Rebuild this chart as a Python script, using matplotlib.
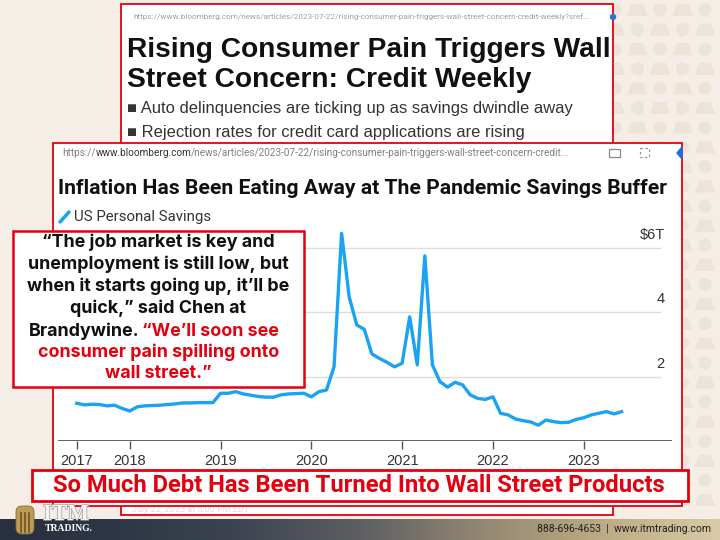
import numpy as np
import matplotlib.pyplot as plt
import matplotlib.patheffects as pe
from matplotlib.patches import Rectangle, Circle, Polygon, FancyBboxPatch
from matplotlib.colors import LinearSegmentedColormap

# US personal savings ($ trillions), monthly, Jun 2017 - Jun 2023
savings = [1.17, 1.12, 1.14, 1.13, 1.09, 1.11, 1.01,
           0.93, 1.06, 1.09, 1.10, 1.11, 1.13, 1.15, 1.18, 1.18, 1.19, 1.19, 1.19,
           1.48, 1.48, 1.53, 1.46, 1.42, 1.38, 1.36, 1.36, 1.43, 1.46, 1.47, 1.48,
           1.37, 1.53, 1.58, 2.30, 6.44, 4.47, 3.60, 3.46, 2.70, 2.56, 2.44, 2.30,
           2.41, 3.85, 2.36, 5.74, 2.36, 1.84, 1.67, 1.82, 1.74, 1.43, 1.32, 1.29,
           1.37, 0.86, 0.81, 0.68, 0.63, 0.59, 0.49, 0.65, 0.60, 0.57, 0.58, 0.67,
           0.72, 0.81, 0.86, 0.91, 0.84, 0.91]
years = 2017 + 5 / 12 + np.arange(len(savings)) / 12

tick_years = [2017 + 5 / 12, 2018, 2019, 2020, 2021, 2022, 2023]
tick_labels = ['2017', '2018', '2019', '2020', '2021', '2022', '2023']
grid_vals = [2, 4, 6]
grid_labels = ['2', '4', '$6T']

headline = ['Rising Consumer Pain Triggers Wall', 'Street Concern: Credit Weekly']
bullets = ['\u25a0 Auto delinquencies are ticking up as savings dwindle away',
           '\u25a0 Rejection rates for credit card applications are rising']
chart_title = 'Inflation Has Been Eating Away at The Pandemic Savings Buffer'
quote_black = ['\u201cThe job market is key and',
               'unemployment is still low, but',
               'when it starts going up, it\u2019ll be',
               'quick,\u201d said Chen at']
quote_split = ['Brandywine.', '\u201cWe\u2019ll soon see']
quote_red = ['consumer pain spilling onto', 'wall street.\u201d']
banner = 'So Much Debt Has Been Turned Into Wall Street Products'

BG = '#F5EEE6'
RED = '#E3000F'
BLUE = '#1AA3F2'
PATTERN = '#EDE3D6'

fig = plt.figure(figsize=(7.2, 5.4), dpi=100)
fig.patch.set_facecolor(BG)
renderer = fig.canvas.get_renderer()


def px_box(l, t, r, b):
    return [l / 720, 1 - b / 540, (r - l) / 720, (b - t) / 540]


def pixel_axes(z):
    a = fig.add_axes([0, 0, 1, 1], zorder=z)
    a.set_xlim(0, 720)
    a.set_ylim(540, 0)
    a.axis('off')
    a.patch.set_alpha(0)
    return a


def fit(t, width):
    w = t.get_window_extent(renderer).width
    t.set_fontsize(t.get_fontsize() * width / w)
    return t.get_fontsize()


bg = pixel_axes(0)

# background pattern of bars and coins (right side)
for r in range(26):
    for c in range(5):
        cx = 615 + 22.5 * c
        cy = 10 + 19.6 * r
        if cy > 150 and cx < 680:
            continue
        if (r + c) % 2 == 1:
            bg.add_patch(Polygon([(cx - 10, cy + 6), (cx + 10, cy + 6),
                                  (cx + 6, cy - 6), (cx - 6, cy - 6)],
                                 closed=True, color=PATTERN, lw=0))
        else:
            bg.add_patch(Circle((cx, cy), 6.5, color=PATTERN, lw=0))

# upper article screenshot
bg.add_patch(Rectangle((121, 4), 492, 511, facecolor='white', edgecolor=RED, lw=1.3))
t = bg.text(133, 17, 'https://www.bloomberg.com/news/articles/2023-07-22/rising-consumer-pain-'
            'triggers-wall-street-concern-credit-weekly?sref...', fontsize=6,
            color='#A0A0A0', va='center', family='Roboto')
fit(t, 459)
bg.add_patch(Circle((613, 17), 2.5, color='#2E6FD8'))
t1 = bg.text(127, 50, headline[0], fontsize=20, weight='bold', va='center',
             color='#111111', family='Liberation Sans')
fs = fit(t1, 483)
bg.text(127, 80, headline[1], fontsize=fs, weight='bold', va='center',
        color='#111111', family='Liberation Sans')
t2 = bg.text(127, 108, bullets[0], fontsize=12, va='center', color='#333333',
             family=['Liberation Sans', 'DejaVu Sans'])
fs = fit(t2, 443)
bg.text(127, 133, bullets[1], fontsize=fs, va='center', color='#333333',
        family=['Liberation Sans', 'DejaVu Sans'])
bg.text(132, 510, 'July 22, 2023 at 5:00 PM EDT', fontsize=6.5, va='center',
        color='#DDDDDD', family='Roboto')

# lower chart screenshot
bg.add_patch(Rectangle((53, 143), 629, 363, facecolor='white', edgecolor=RED, lw=1.3, zorder=3))
u1 = bg.text(62, 153, 'https://', fontsize=7.2, va='center', color='#808080',
             family='Roboto', zorder=4)
u2 = bg.annotate('www.bloomberg.com', xy=(1, 0), xycoords=u1, va='bottom',
                 fontsize=7.2, color='#333333', family='Roboto', zorder=4)
bg.annotate('/news/articles/2023-07-22/rising-consumer-pain-triggers-wall-street-concern-credit...',
            xy=(1, 0), xycoords=u2, va='bottom', fontsize=7.2, color='#808080',
            family='Roboto', zorder=4)
bg.add_patch(Rectangle((609, 149), 11, 8, facecolor='none', edgecolor='#888888', lw=0.9, zorder=4))
bg.add_patch(Rectangle((640, 148), 9, 9, facecolor='none', edgecolor='#999999', lw=0.9,
                       ls=(0, (2, 2)), zorder=4))
bg.add_patch(Polygon([(677, 153), (682, 147), (682, 159)], closed=True, color='#1B6FE0', zorder=4))
tt = bg.text(58, 188, chart_title, fontsize=14, weight='bold', va='center',
             color='#111111', family='Roboto', zorder=4)
fit(tt, 610)
bg.plot([60, 69], [222, 212], color=BLUE, lw=2.5, solid_capstyle='round', zorder=4)
tl = bg.text(74, 217, 'US Personal Savings', fontsize=10.5, va='center',
             color='#333333', family='Roboto', zorder=4)
fit(tl, 138)

# savings chart
ax = fig.add_axes(px_box(58, 225, 672, 441), zorder=1)
ax.patch.set_alpha(0)
ax.set_xlim(2017.21, 2023.972)
ax.set_ylim(0, 6.698)
for v, lab in zip(grid_vals, grid_labels):
    ax.axhline(v, xmin=0, xmax=0.98, color='#DEDEDE', lw=1, zorder=1)
    ax.annotate(lab, xy=(0.988, v), xycoords=('axes fraction', 'data'),
                xytext=(0, 4), textcoords='offset points', ha='right', va='bottom',
                fontsize=10.5, color='#333333', family='Liberation Sans')
ax.axhline(0, color='#555555', lw=1.3, zorder=2)
ax.plot(years, savings, color=BLUE, lw=2.4, solid_joinstyle='round', zorder=3)
ax.set_xticks(tick_years)
ax.set_xticklabels(tick_labels, family='Liberation Sans', fontsize=10.5, color='#333333')
ax.tick_params(axis='x', direction='out', length=5.5, width=1, color='#555555', pad=4)
ax.set_yticks([])
for s in ax.spines.values():
    s.set_visible(False)

top = pixel_axes(2)

# quote box
top.add_patch(Rectangle((13, 231), 291, 156, facecolor='white', edgecolor=RED, lw=1.8))
qy = [242.3, 264.3, 286.7, 308.3]
q3 = top.text(158.5, qy[2], quote_black[2], fontsize=12, weight='bold', ha='center',
              va='center', color='#111111', family='Inter')
qfs = fit(q3, 261)
for yy, line in zip(qy, quote_black):
    if line != quote_black[2]:
        top.text(158.5, yy, line, fontsize=qfs, weight='bold', ha='center',
                 va='center', color='#111111', family='Inter')
top.text(139, 331, quote_split[0], fontsize=qfs, weight='bold', ha='right',
         va='center', color='#111111', family='Inter')
top.text(142, 331, quote_split[1], fontsize=qfs, weight='bold', ha='left',
         va='center', color=RED, family='Inter')
for yy, line in zip([352.5, 374], quote_red):
    top.text(158.5, yy, line, fontsize=qfs, weight='bold', ha='center',
             va='center', color=RED, family='Inter')

# banner
top.add_patch(Rectangle((32, 470), 656, 31, facecolor='white', edgecolor=RED, lw=2))
tb = top.text(358.5, 486, banner, fontsize=16, weight='bold', ha='center',
              va='center', color=RED, family='Roboto')
fit(tb, 613)

# footer bar
cmap = LinearSegmentedColormap.from_list('foot', ['#28303F', '#2F3746', '#3E4450',
                                                  '#5E5F62', '#928672', '#BDAA84', '#D9C9A7'])
top.imshow(np.linspace(0, 1, 256).reshape(1, -1), cmap=cmap, aspect='auto',
           extent=[0, 720, 540, 519], zorder=1)
top.set_xlim(0, 720)
top.set_ylim(540, 0)
tf = top.text(537, 529.5, '888-696-4653  |  www.itmtrading.com', fontsize=7.5,
              va='center', color='#222222', family='Roboto', zorder=3)
fit(tf, 173)

# logo
top.add_patch(FancyBboxPatch((16, 506), 18, 28, boxstyle='round,pad=0,rounding_size=6',
                             facecolor='#BE9C58', edgecolor='#8A6D33', lw=0.6, zorder=3))
for lx in [21, 25, 29]:
    top.plot([lx, lx], [513, 532], color='#6E5424', lw=1.2, zorder=4)
ti = top.text(43, 520, 'ITM', fontsize=12, weight='bold', va='baseline', color='#F4F4F4',
              family='Liberation Serif', zorder=4,
              path_effects=[pe.withStroke(linewidth=1, foreground='#A0A0A0')])
fit(ti, 46)
tr = top.text(45, 524, 'TRADING.', fontsize=6.5, weight='bold', va='top',
              color='white', family='Liberation Serif', zorder=4)
fit(tr, 48)

fig.savefig('out.png', dpi=100, facecolor=BG)
